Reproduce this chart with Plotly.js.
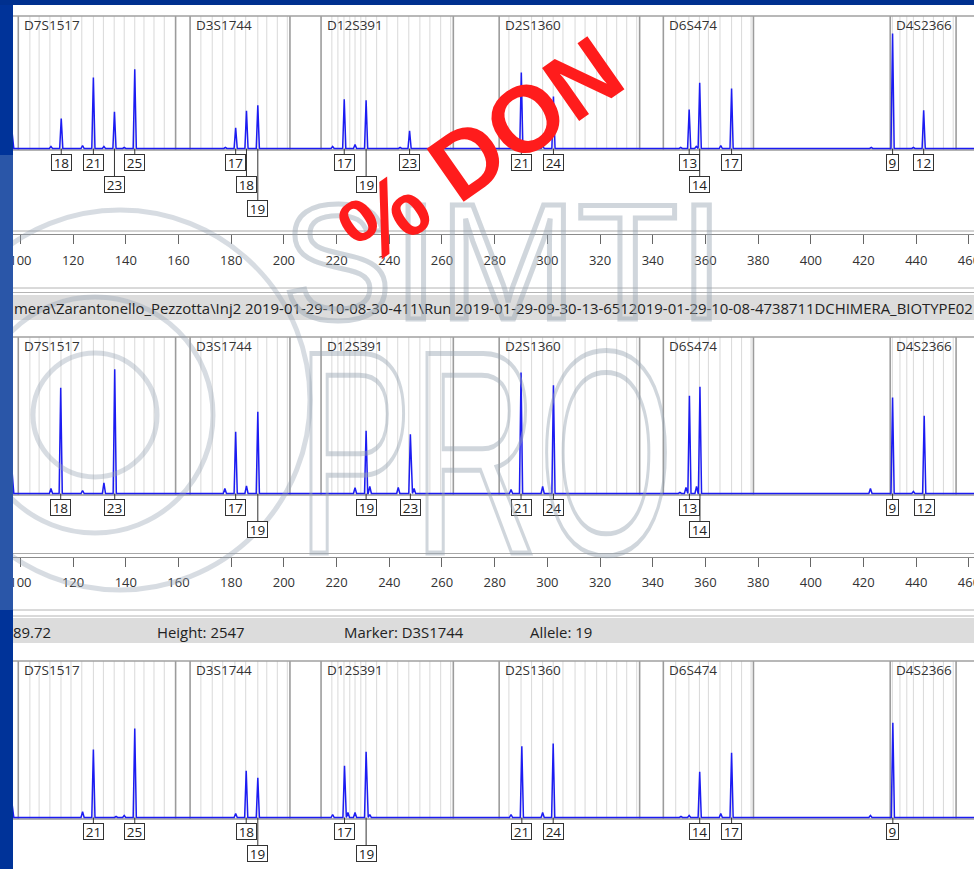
<!DOCTYPE html>
<html><head><meta charset="utf-8">
<script src="https://cdn.plot.ly/plotly-3.0.1.min.js"></script>
<style>html,body{margin:0;padding:0;background:#fff;overflow:hidden}#chart{width:974px;height:869px}</style>
</head><body><div id="chart"></div>
<script>
// ================= DATA =================
// size ruler ticks (bp)
const rulerTick0 = 0, rulerDtick = 20;
// STR markers (bp)
const markerNames = ['D7S1517','D3S1744','D12S391','D2S1360','D6S474','D4S2366'];
const markerStart = [99.2, 164.4, 214.1, 281.7, 344.0, 430.1];
const markerEnd   = [158.9, 202.3, 264.3, 335.0, 378.2, 455.1];
const binsD7S1517 = [103.6,107.1,111.2,115.4,119.2,123.3,127.7,131.5,135.6,139.4,143.4,146.9,150.7,154.6];
const binsD3S1744 = [168.5,172.8,176.8,181.4,185.5,190.1,193.5,197.5,201.3];
const binsD12S391 = [218.2,220.5,222.8,225.0,227.0,229.2,231.1,235.2,239.1,243.2,247.4,251.6,255.4,259.5,263.3];
const binsD2S1360 = [285.4,290.0,294.0,298.2,302.2,305.9,310.5,314.3,318.7,322.5,326.3,330.1,333.9];
const binsD6S474  = [348.7,353.7,357.7,361.1,365.5,369.9,373.7,377.3];
const binsD4S2366 = [430.9,433.8,436.4,438.9,442.7,446.5,450.3,454.0];

// Panel 1 peaks (size bp, height RFU)
const p1Size   = [96.9,111.6,115.5,123.6,127.7,131.7,135.7,139.4,143.4,177.8,181.7,185.8,190.1,218.5,222.9,227.0,231.2,244.1,247.7,290.1,298.2,302.3,350.6,353.8,356.5,357.8,365.8,369.9,422.9,431.0,438.9,442.8];
const p1Height = [960,128,1920,192,4544,128,2349,64,5075,64,1325,2413,2771,128,3155,256,3091,64,1133,4864,192,3328,64,2496,128,4205,192,3840,64,7360,64,2451];
const p1CallSize  = [115.5,127.7,135.7,143.4,181.7,185.8,190.1,222.9,231.2,247.7,290.1,302.3,353.8,357.8,369.9,431.0,442.8];
const p1CallLabel = ['18','21','23','25','17','18','19','17','19','23','21','24','13','14','17','9','12'];
const p1CallRow   = [1,1,2,1,1,2,3,1,2,1,1,1,1,2,1,1,1];

// Panel 2 peaks
const p2Size   = [96.9,111.6,115.3,123.6,131.7,135.8,177.6,181.7,185.8,190.1,227.0,231.2,232.6,243.4,248.0,249.4,286.2,290.0,298.2,302.3,350.3,352.6,353.9,356.6,357.9,422.6,431.0,438.9,443.0];
const p2Height = [1280,320,6765,192,685,7955,320,3949,493,5229,365,4013,448,384,3795,320,256,7744,448,6931,64,384,6253,448,6829,320,6144,128,4973];
const p2CallSize  = [115.3,135.8,181.7,190.1,231.2,248.0,290.0,302.3,353.9,357.9,431.0,443.0];
const p2CallLabel = ['18','23','17','19','19','23','21','24','13','14','9','12'];
const p2CallRow   = [1,1,1,2,1,1,1,1,1,2,1,1];

// Panel 3 peaks
const p3Size   = [96.9,123.6,127.7,136.3,139.4,143.4,181.7,185.7,190.1,218.5,223.0,224.3,227.0,231.2,232.6,286.2,290.3,298.2,302.2,350.7,353.8,357.8,365.8,369.9,422.6,431.1];
const p3Height = [787,365,4352,64,128,5696,256,2989,2547,192,3309,320,320,4205,192,192,4563,320,4736,64,128,2925,256,4141,128,6061];
const p3CallSize  = [127.7,143.4,185.7,190.1,223.0,231.2,290.3,302.2,357.8,369.9,431.1];
const p3CallLabel = ['21','25','18','19','17','19','21','24','14','17','9'];
const p3CallRow   = [1,1,1,2,1,2,1,1,1,1,1];

// header texts
const headerPath = 'mera\\Zarantonello_Pezzotta\\Inj2 2019-01-29-10-08-30-411\\Run 2019-01-29-09-30-13-6512019-01-29-10-08-4738711DCHIMERA_BIOTYPE02';
const infoTexts = ['89.72','Height: 2547','Marker: D3S1744','Allele: 19'];
const stamp = '% DON';
const watermark1 = 'SIMTI', watermark2 = 'PRO';

// ================= DRAWING =================
const W = 974, H = 869;
const FONT = 'Open Sans, Noto Sans, sans-serif';
const X0 = 92.26, X1 = 461.9;
const px = v => v / W, py = v => 1 - v / H;
const binsAll = [binsD7S1517, binsD3S1744, binsD12S391, binsD2S1360, binsD6S474, binsD4S2366];

const panels = [
  {xa:'x', ya:'y', top:16, bot:150, size:p1Size, h:p1Height, cs:p1CallSize, cl:p1CallLabel, cr:p1CallRow},
  {xa:'x2', ya:'y2', top:337, bot:495, size:p2Size, h:p2Height, cs:p2CallSize, cl:p2CallLabel, cr:p2CallRow},
  {xa:'x3', ya:'y3', top:661, bot:819, size:p3Size, h:p3Height, cs:p3CallSize, cl:p3CallLabel, cr:p3CallRow}
];
const RFU_PER_PX = 64, BASE_OFF = 1.5, HW = 0.6;
const rowOffset = {1:14, 2:36, 3:60};

const traces = [], shapes = [], annotations = [];
const layout = {
  width: W, height: H, margin:{l:0,r:0,t:0,b:0},
  paper_bgcolor:'#ffffff', plot_bgcolor:'rgba(0,0,0,0)', showlegend:false,
  font:{family:FONT}
};

panels.forEach((p, i) => {
  const sfx = i === 0 ? '' : String(i + 1);
  const hgt = p.bot - p.top;
  layout['xaxis' + sfx] = {range:[X0, X1], domain:[0,1], visible:false, anchor:'y' + sfx, fixedrange:true};
  layout['yaxis' + sfx] = {range:[-BASE_OFF*RFU_PER_PX, (hgt - BASE_OFF)*RFU_PER_PX], domain:[py(p.bot), py(p.top)], visible:false, anchor:'x' + sfx, fixedrange:true};
  const idx = p.size.map((_, k) => k).sort((a, b) => p.size[a] - p.size[b]);
  const xs = [X0], ys = [0];
  idx.forEach(k => { xs.push(p.size[k] - HW, p.size[k], p.size[k] + HW); ys.push(0, p.h[k], 0); });
  xs.push(X1); ys.push(0);
  traces.push({x:xs, y:ys, xaxis:p.xa, yaxis:p.ya, type:'scatter', mode:'lines',
    line:{color:'#1c1cf2', width:1.5}, hoverinfo:'skip'});
  const yd = p.ya + ' domain';
  binsAll.forEach(b => b.forEach(v => shapes.push({type:'line', xref:p.xa, yref:yd, x0:v, x1:v, y0:0, y1:1, layer:'below', line:{color:'#d9d9d9', width:1}})));
  markerNames.forEach((m, j) => {
    [markerStart[j], markerEnd[j]].forEach(v => shapes.push({type:'line', xref:p.xa, yref:yd, x0:v, x1:v, y0:0, y1:1, layer:'below', line:{color:'#9c9c9c', width:1.6}}));
    annotations.push({x:markerStart[j], xref:p.xa, y:py(p.top + 9), yref:'paper', text:m, showarrow:false,
      xanchor:'left', yanchor:'middle', xshift:4, font:{family:FONT, size:13.5, color:'#333'}});
  });
  shapes.push({type:'line', xref:'paper', yref:yd, x0:0, x1:1, y0:1, y1:1, layer:'below', line:{color:'#a0a0a0', width:1.5}});
  shapes.push({type:'line', xref:'paper', yref:yd, x0:0, x1:1, y0:0, y1:0, layer:'below', line:{color:'#9a9a9a', width:1.5}});
  p.cs.forEach((s, k) => {
    annotations.push({x:s, y:0, xref:p.xa, yref:p.ya, text:p.cl[k], showarrow:true, arrowhead:0, arrowwidth:1,
      arrowcolor:'#333', ax:0, ay:rowOffset[p.cr[k]], standoff:0,
      width:8.5*p.cl[k].length, height:13, borderpad:1, borderwidth:1, bordercolor:'#333', bgcolor:'#ffffff',
      font:{family:FONT, size:13.5, color:'#222'}});
  });
});

// rulers
[[233.5, 231, '4'], [556, 553.5, '5']].forEach(([ly, ly2, s]) => {
  layout['xaxis' + s] = {range:[X0, X1], domain:[0,1], anchor:'y' + s, showline:true, linecolor:'#8c8c8c', linewidth:1,
    ticks:'outside', ticklen:9, tickwidth:1, tickcolor:'#666', tick0:rulerTick0, dtick:rulerDtick,
    tickfont:{family:FONT, size:13, color:'#333'}, showgrid:false, zeroline:false, ticklabelstandoff:5,
    ticklabeloverflow:'allow', fixedrange:true};
  layout['yaxis' + s] = {range:[0,1], domain:[py(ly + 0.5), py(ly - 0.5)], visible:false, anchor:'x' + s, fixedrange:true};
  traces.push({x:[], y:[], xaxis:'x' + s, yaxis:'y' + s, type:'scatter', mode:'lines', hoverinfo:'skip'});
  shapes.push({type:'line', xref:'paper', yref:'paper', x0:0, x1:1, y0:py(ly2), y1:py(ly2), layer:'below', line:{color:'#a8a8a8', width:1}});
});
[288, 292.5, 610, 616].forEach(v => shapes.push({type:'line', xref:'paper', yref:'paper', x0:0, x1:1, y0:py(v), y1:py(v), layer:'below', line:{color:'#b4b4b4', width:1}}));
[[295, 320], [618, 643]].forEach(([a, b]) => shapes.push({type:'rect', xref:'paper', yref:'paper', x0:0, x1:1, y0:py(b), y1:py(a), layer:'below', fillcolor:'#dcdcdc', line:{width:0}}));

annotations.push({x:px(12), y:py(307.5), xref:'paper', yref:'paper', text:headerPath, showarrow:false, xanchor:'left', yanchor:'middle', font:{family:FONT, size:14.9, color:'#222'}});
const infoX = [11, 155, 342, 528];
infoTexts.forEach((t, k) => annotations.push({x:px(infoX[k]), y:py(632), xref:'paper', yref:'paper', text:t, showarrow:false, xanchor:'left', yanchor:'middle', font:{family:FONT, size:14.9, color:'#222'}}));

// watermark logo rings
const WM = 'rgba(150,163,178,0.38)';
[[95, 415, 62], [95, 415, 118], [120, 400, 190]].forEach(([cx, cy, r]) => shapes.push({type:'circle', xref:'paper', yref:'paper',
  x0:px(cx - r), x1:px(cx + r), y0:py(cy + r), y1:py(cy - r), layer:'above', line:{color:WM, width:5}, fillcolor:'rgba(0,0,0,0)'}));
// blue frame
shapes.push({type:'rect', xref:'paper', yref:'paper', x0:0, x1:px(13), y0:0, y1:1, layer:'above', fillcolor:'#003399', line:{width:0}});
shapes.push({type:'rect', xref:'paper', yref:'paper', x0:0, x1:px(13), y0:py(610), y1:py(155), layer:'above', fillcolor:'#2a56a8', line:{width:0}});
shapes.push({type:'rect', xref:'paper', yref:'paper', x0:0, x1:1, y0:py(5), y1:1, layer:'above', fillcolor:'#00308f', line:{width:0}});

const wmIndex1 = annotations.length;
annotations.push({x:px(503), y:py(262), xref:'paper', yref:'paper', text:watermark1, showarrow:false, xanchor:'center', yanchor:'middle',
  font:{family:'Liberation Sans, Arial, sans-serif', size:166, color:'#aab4bf'}});
const wmIndex2 = annotations.length;
annotations.push({x:px(485), y:py(452), xref:'paper', yref:'paper', text:watermark2, showarrow:false, xanchor:'center', yanchor:'middle',
  font:{family:'Liberation Sans, Arial, sans-serif', size:290, color:'#aab4bf'}});
annotations.push({x:px(480), y:py(150), xref:'paper', yref:'paper', text:stamp, showarrow:false, xanchor:'center', yanchor:'middle', textangle:-35,
  font:{family:'Liberation Sans, Arial, sans-serif', size:94, color:'#ff1c1c', weight:'bold'}});

layout.shapes = shapes;
layout.annotations = annotations;

Plotly.newPlot('chart', traces, layout, {displayModeBar:false, staticPlot:true}).then(gd => {
  [[wmIndex1, 1], [wmIndex2, 0.6]].forEach(([i, sx]) => {
    const g = gd.querySelector('.annotation[data-index="' + i + '"]');
    if (!g) return;
    const t = g.querySelector('text');
    if (!t) return;
    t.style.fill = 'none';
    t.style.stroke = 'rgba(150,163,178,0.45)';
    t.style.strokeWidth = '5px';
    if (sx !== 1) {
      const bb = t.getBBox();
      const cx = bb.x + bb.width / 2;
      t.setAttribute('transform', 'translate(' + cx + ',0) scale(' + sx + ',1) translate(' + (-cx) + ',0)');
    }
  });
});
</script></body></html>
